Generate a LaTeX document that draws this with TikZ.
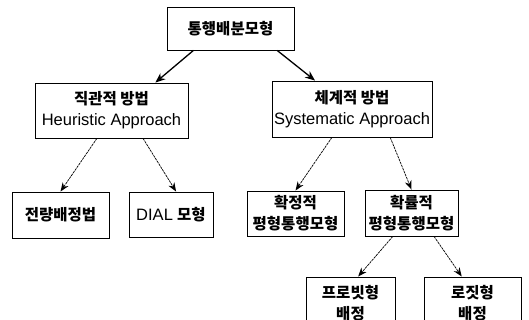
\documentclass[tikz,border=0pt]{standalone}
\usepackage{fontspec}
\setmainfont{Liberation Sans}
\newfontfamily\kr{Noto Sans CJK KR}
\usetikzlibrary{calc,arrows.meta}
\begin{document}
\begin{tikzpicture}[x=1pt,y=-1pt,
  box/.style={draw,line width=0.9pt,rectangle,inner sep=0pt,align=center,
    font=\fontsize{15.5}{21}\selectfont},
  mainarr/.style={line width=1.3pt,-{Stealth[length=10pt,width=8pt]}},
  subarr/.style={line width=0.7pt,dash pattern=on 2.5pt off 0.8pt,-{Stealth[length=9pt,width=7pt,line width=0pt]}},
  lat/.style={}]
\useasboundingbox (0,0) rectangle (529,320);
\clip (0,0) rectangle (529,320);
\fill[white] (0,0) rectangle (529,320);
\node[box,minimum width=127,minimum height=43] (top) at (230.5,28.5) {{\kr\bfseries 통행배분모형}};
\node[box,minimum width=153,minimum height=55] (heu) at (111.5,110.5) {{\kr\bfseries 직관적 방법}\\{\fontsize{16.5}{21}\selectfont Heuristic Approach}};
\node[box,minimum width=160,minimum height=56] (sys) at (352,109) {{\kr\bfseries 체계적 방법}\\{\fontsize{16.5}{21}\selectfont Systematic Approach}};
\node[box,minimum width=97,minimum height=46] (jr) at (60.5,215) {{\kr\bfseries 전량배정법}};
\node[box,minimum width=84,minimum height=45] (dial) at (171,214.5) {{\fontsize{16.5}{21}\selectfont DIAL} {\kr\bfseries 모형}};
\node[box,minimum width=97,minimum height=45] (det) at (295.5,213.5) {{\kr\bfseries 확정적}\\{\kr\bfseries 평형통행모형}};
\node[box,minimum width=93,minimum height=46] (sto) at (411.5,213) {{\kr\bfseries 확률적}\\{\kr\bfseries 평형통행모형}};
\node[box,minimum width=89,minimum height=52] (pro) at (350.5,303) {{\kr\bfseries 프로빗형}\\{\kr\bfseries 배정}};
\node[box,minimum width=97,minimum height=52] (log) at (472.5,303) {{\kr\bfseries 로짓형}\\{\kr\bfseries 배정}};
\draw[mainarr] ($(top.south)!0.58!(top.south west)$) -- ($(heu.north)!0.57!(heu.north east)$);
\draw[mainarr] ($(top.south)!0.73!(top.south east)$) -- ($(sys.north)!0.46!(sys.north west)$);
\draw[subarr] ($(heu.south)!0.19!(heu.south west)$) -- (jr.north);
\draw[subarr] ($(heu.south)!0.41!(heu.south east)$) -- ($(dial.north)!0.12!(dial.north east)$);
\draw[subarr] ($(sys.south)!0.25!(sys.south west)$) -- (det.north);
\draw[subarr] ($(sys.south)!0.475!(sys.south east)$) -- (sto.north);
\draw[subarr] ($(sto.south)!0.4!(sto.south west)$) -- ($(pro.north)!0.17!(pro.north east)$);
\draw[subarr] ($(sto.south)!0.48!(sto.south east)$) -- ($(log.north)!0.22!(log.north west)$);
\end{tikzpicture}
\end{document}
